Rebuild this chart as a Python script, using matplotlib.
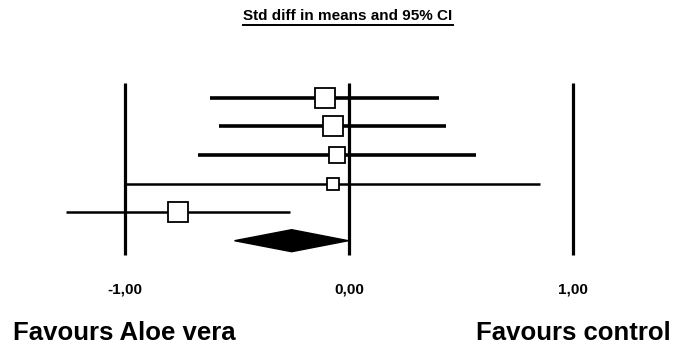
import matplotlib.pyplot as plt
from matplotlib.patches import Polygon

plt.rcParams['font.family'] = ['Liberation Sans', 'DejaVu Sans']

# Study estimates (std diff in means) and 95% CI
est = [-0.109, -0.071, -0.055, -0.071, -0.763]
lo = [-0.622, -0.580, -0.674, -0.996, -1.264]
hi = [0.400, 0.435, 0.567, 0.853, -0.263]

# Pooled estimate
pooled_est = -0.256
pooled_lo = -0.511
pooled_hi = -0.003

tick_vals = [-1, 0, 1]
tick_labels = ['-1,00', '0,00', '1,00']

# drawing styles (box sizes ~ study weights)
box_sizes = [15, 14, 11.5, 8, 15]
line_widths = [2.6, 2.6, 2.6, 1.8, 1.8]

# pixel -> data helpers
X0, XS = 349, 224
Y0, YS = 97.7, 28.6


def px_x(p):
    return (p - X0) / XS


def px_y(p):
    return (p - Y0) / YS


fig = plt.figure(figsize=(6.84, 3.45), dpi=100)
ax = fig.add_axes([0, 0, 1, 1])
ax.set_xlim(px_x(0), px_x(684))
ax.set_ylim(px_y(345), px_y(0))
ax.axis('off')

# Reference lines at -1, 0, 1
for v in tick_vals:
    ax.plot([v, v], [px_y(83), px_y(255)], color='black', lw=2.3,
            solid_capstyle='butt')

# Study rows
for i in range(len(est)):
    ax.plot([lo[i], hi[i]], [i, i], color='black', lw=line_widths[i],
            solid_capstyle='butt')
    ax.plot(est[i], i, marker='s', ms=box_sizes[i], mfc='white',
            mec='black', mew=1.3, zorder=3)

# Pooled diamond
row = len(est)
h = 0.385
ax.add_patch(Polygon([[pooled_lo, row], [pooled_est, row - h],
                      [pooled_hi, row], [pooled_est, row + h]],
                     closed=True, facecolor='black', edgecolor='black'))

# Tick labels
for v, lab in zip(tick_vals, tick_labels):
    ax.text(v, px_y(293), lab, ha='center', va='baseline',
            fontsize=11, fontweight='bold')

# Title with underline
ax.text(px_x(348), px_y(20.5), 'Std diff in means and 95% CI',
        ha='center', va='baseline', fontsize=11, fontweight='bold')
ax.plot([px_x(243), px_x(453)], [px_y(24.5)] * 2, color='black', lw=1.4)

ax.text(px_x(13), px_y(340), 'Favours Aloe vera', ha='left',
        va='baseline', fontsize=18.5, fontweight='bold')
ax.text(px_x(671), px_y(340), 'Favours control', ha='right',
        va='baseline', fontsize=18.5, fontweight='bold')

fig.savefig('out.png', dpi=100)
